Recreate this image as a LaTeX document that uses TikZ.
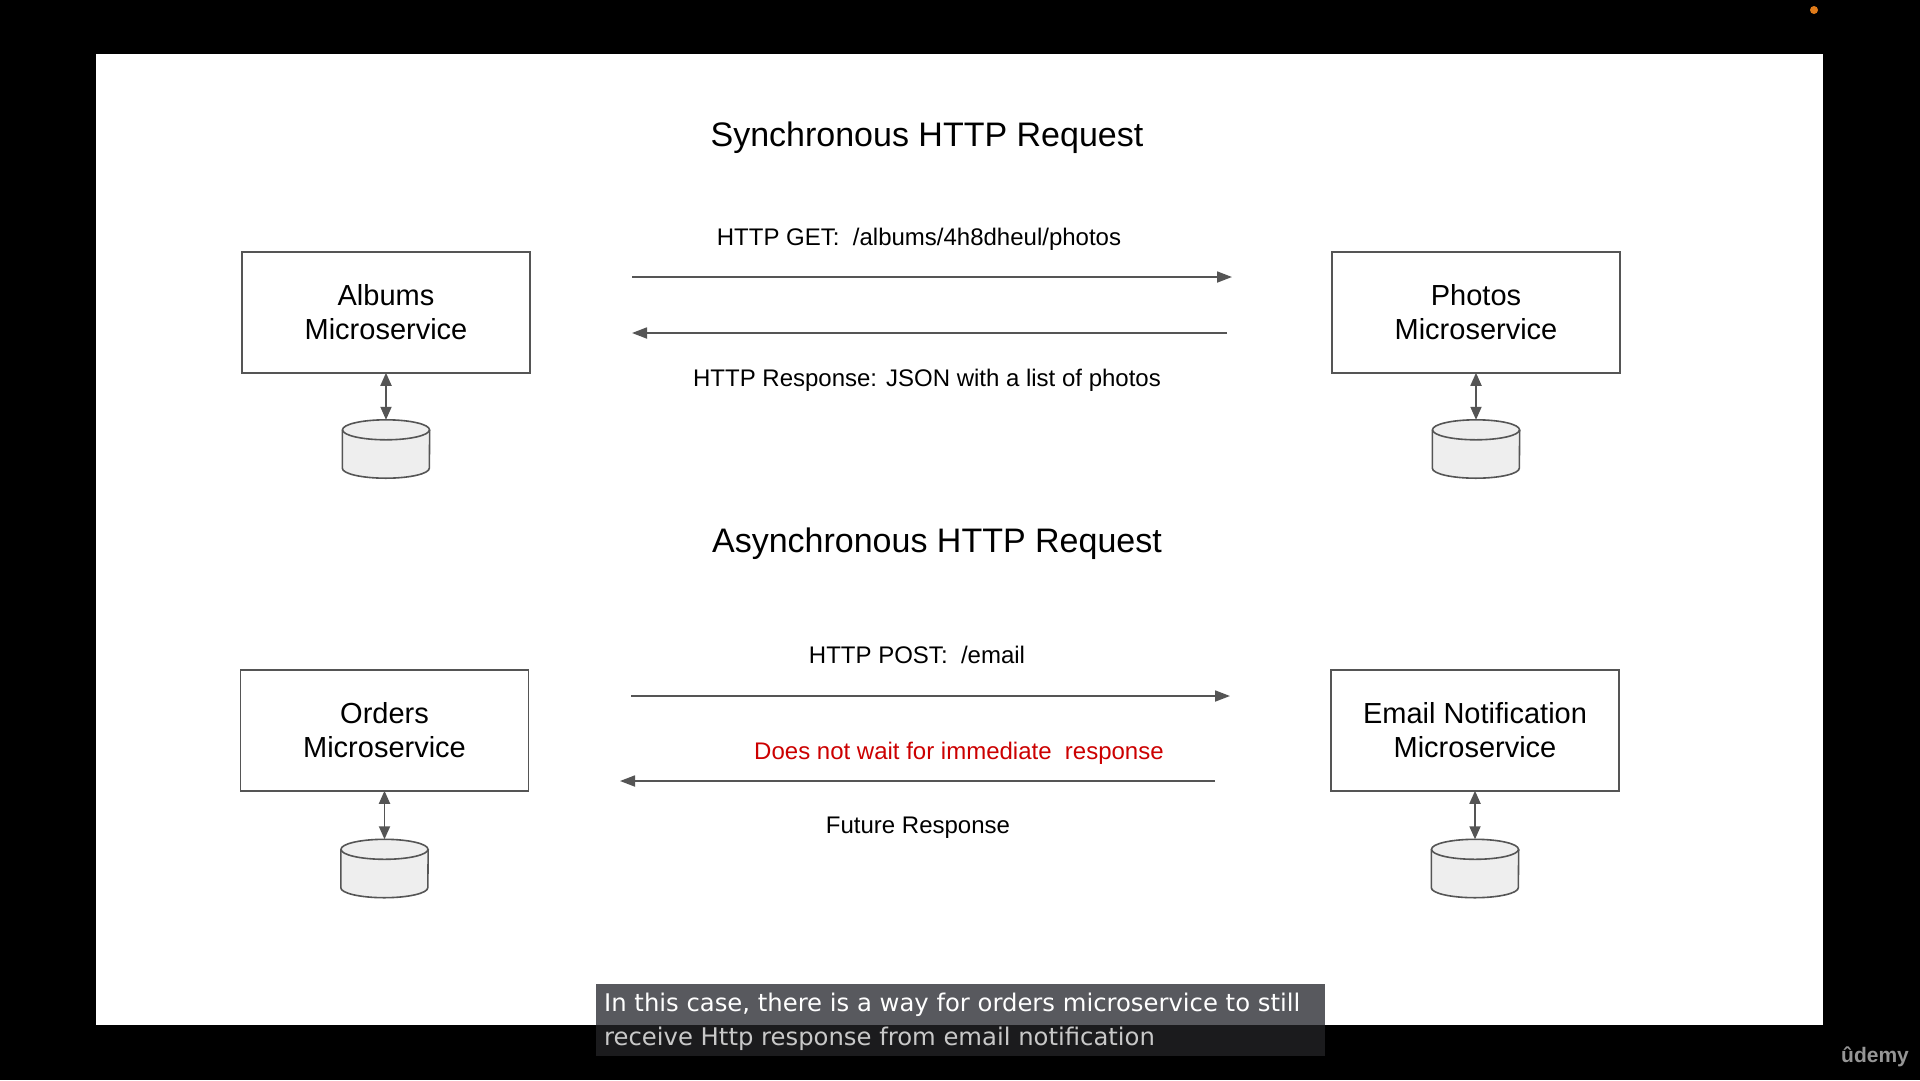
\documentclass[tikz,border=0pt]{standalone}
\usepackage{fontspec}
\setmainfont{Liberation Sans}
\newfontfamily\subfont{DejaVu Sans}
\usetikzlibrary{arrows.meta}
\definecolor{linegray}{HTML}{555555}
\definecolor{dbfill}{HTML}{EEEEEE}
\definecolor{redtext}{HTML}{CC0000}
\definecolor{subtop}{HTML}{58595E}
\definecolor{subbot}{HTML}{1B1B1D}
\definecolor{dotorange}{HTML}{E07B1A}
\tikzset{
  svcbox/.style={draw=linegray, line width=1.5pt, minimum width=288pt, minimum height=121pt,
    align=center, inner sep=0pt, font=\fontsize{29}{34}\selectfont},
  titletext/.style={font=\fontsize{34}{40}\selectfont, inner sep=0pt},
  labeltext/.style={font=\fontsize{24}{28}\selectfont, inner sep=0pt},
  flow/.style={draw=linegray, line width=1.8pt, -{Triangle[length=15pt,width=11pt]}},
  dblflow/.style={draw=linegray, line width=1.8pt, {Triangle[length=13pt,width=11pt]}-{Triangle[length=13pt,width=11pt]}},
  dbslot/.style={minimum width=87pt, minimum height=58pt, inner sep=0pt},
  subline/.style={font=\subfont\fontsize{24.3}{28}\selectfont, inner sep=0pt, anchor=west}
}
\newcommand{\dbdraw}[1]{%
  \fill[dbfill] ([yshift=-10pt]#1.north west) -- ([yshift=10pt]#1.south west)
    arc[start angle=180, end angle=360, x radius=43.5pt, y radius=10pt]
    -- ([yshift=-10pt]#1.north east)
    arc[start angle=0, end angle=180, x radius=43.5pt, y radius=10pt] -- cycle;
  \draw[linegray, line width=1.6pt] ([yshift=-10pt]#1.north west) -- ([yshift=10pt]#1.south west)
    arc[start angle=180, end angle=360, x radius=43.5pt, y radius=10pt]
    -- ([yshift=-10pt]#1.north east);
  \draw[linegray, line width=1.6pt] ([yshift=-10pt]#1.north) ellipse[x radius=43.5pt, y radius=10pt];
}
\begin{document}
\begin{tikzpicture}[x=1pt, y=-1pt]
\useasboundingbox (0,0) rectangle (1920,1080);
\fill[black] (0,0) rectangle (1920,1080);
\fill[white] (95.5,54) rectangle (1823,1025);
\fill[dotorange] (1814,10) circle (4);

% titles
\node[titletext] (t1) at (927,138) {Synchronous HTTP Request};
\node[titletext] (t2) at (937,544) {Asynchronous HTTP Request};

% boxes
\node[svcbox] (albums) at (386,312.5) {Albums\\Microservice};
\node[svcbox] (photos) at (1476,312.5) {Photos\\Microservice};
\node[svcbox] (orders) at (384.5,730.5) {Orders\\Microservice};
\node[svcbox] (email) at (1475,730.5) {Email Notification\\Microservice};

% databases
\node[dbslot] (db1) at (386,449) {};
\node[dbslot] (db2) at (1476,449) {};
\node[dbslot] (db3) at (384.5,868.5) {};
\node[dbslot] (db4) at (1475,868.5) {};
\dbdraw{db1}\dbdraw{db2}\dbdraw{db3}\dbdraw{db4}

\draw[dblflow] ([yshift=1pt]albums.south) -- (db1.north);
\draw[dblflow] ([yshift=1pt]photos.south) -- (db2.north);
\draw[dblflow] ([yshift=1pt]orders.south) -- (db3.north);
\draw[dblflow] ([yshift=1pt]email.south) -- (db4.north);

% sync arrows
\coordinate (g1) at (632,277);
\coordinate (g2) at (1232,277);
\coordinate (r1) at (1227,333);
\coordinate (r2) at (632,333);
\draw[flow] (g1) -- (g2);
\draw[flow] (r1) -- (r2);
\node[labeltext] (getl) at (919,239) {HTTP GET:\ \ /albums/4h8dheul/photos};
\node[labeltext] (respl) at (927,380) {HTTP Response: JSON with a list of photos};

% async arrows
\coordinate (p1) at (631,696);
\coordinate (p2) at (1230,696);
\coordinate (f1) at (1215,781);
\coordinate (f2) at (620,781);
\draw[flow] (p1) -- (p2);
\draw[flow] (f1) -- (f2);
\node[labeltext] (postl) at (917,655) {HTTP POST:\ \ /email};
\node[labeltext, text=redtext] (waitl) at (959,753) {Does not wait for immediate\ \ response};
\node[labeltext] (futl) at (918,828) {Future Response};

% subtitle
\fill[subtop] (596,984) rectangle (1325,1025);
\fill[subbot] (596,1025) rectangle (1325,1056);
\node[subline, text=white] (sub1) at (604,1005) {In this case, there is a way for orders microservice to still};
\node[subline, text={rgb,255:red,200;green,200;blue,200}] (sub2) at (604,1039) {receive Http response from email notification};

% logo
\node[font=\fontsize{21}{24}\selectfont\bfseries, text={rgb,255:red,150;green,150;blue,150}, inner sep=0pt] (logo) at (1875,1057) {ûdemy};
\end{tikzpicture}
\end{document}
